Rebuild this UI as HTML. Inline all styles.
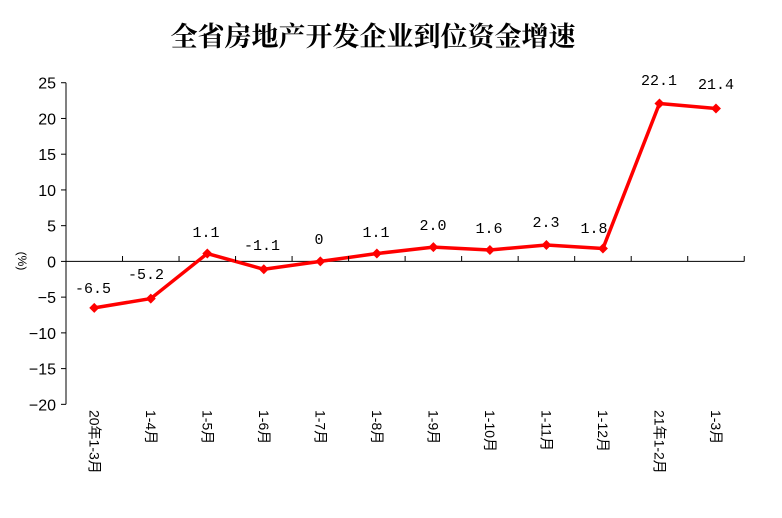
<!DOCTYPE html>
<html><head><meta charset="utf-8"><style>
body{margin:0;background:#fff;}
svg{display:block;}
text{font-family:"Liberation Sans","Noto Sans CJK SC",sans-serif;fill:#000;}
text.m{font-family:"Liberation Mono","Noto Sans CJK SC",monospace;}
</style></head><body>
<svg width="782" height="518" viewBox="0 0 782 518" xmlns="http://www.w3.org/2000/svg">
<text x="373" y="46" text-anchor="middle" style="font-family:'Liberation Serif','Noto Serif CJK SC',serif;font-weight:bold;font-size:27px">全省房地产开发企业到位资金增速</text>
<g stroke="#000" stroke-width="1">
<line x1="66" y1="82.7" x2="66" y2="404.3"/>
<line x1="66" y1="261.4" x2="744.3" y2="261.4"/>
</g>
<g id="yt" font-size="16" text-anchor="end"></g>
<g id="xt"></g>
<polyline id="ln" fill="none" stroke="#ff0000" stroke-width="3.5" stroke-linejoin="round"/>
<g id="mk" fill="#ff0000"></g>
<g id="lb" font-size="15" text-anchor="middle"></g>
<text x="18" y="261" font-size="12" text-anchor="middle" transform="rotate(90 18 261)">(%)</text>
</svg>
<script>
var ns="http://www.w3.org/2000/svg",s=document.querySelector('svg');
function Y(v){return 261.4-v*7.147;}
function X(i){return 66+56.52*(i+0.5);}
var yt=document.getElementById('yt');
for(var v=-20;v<=25;v+=5){var y=Y(v);
var l=document.createElementNS(ns,'line');l.setAttribute('x1',61);l.setAttribute('x2',66);l.setAttribute('y1',y);l.setAttribute('y2',y);l.setAttribute('stroke','#000');s.appendChild(l);
var t=document.createElementNS(ns,'text');t.setAttribute('x',56);t.setAttribute('y',y+6);t.textContent=(v<0?'\u2212'+(-v):v);yt.appendChild(t);}
for(var i=1;i<=12;i++){var x=66+56.52*i;var l=document.createElementNS(ns,'line');l.setAttribute('x1',x);l.setAttribute('x2',x);l.setAttribute('y1',256);l.setAttribute('y2',261.4);l.setAttribute('stroke','#000');s.appendChild(l);}
var cats=["20年1-3月","1-4月","1-5月","1-6月","1-7月","1-8月","1-9月","1-10月","1-11月","1-12月","21年1-2月","1-3月"];
var vals=[-6.5,-5.2,1.1,-1.1,0,1.1,2.0,1.6,2.3,1.8,22.1,21.4];
var labs=["-6.5","-5.2","1.1","-1.1","0","1.1","2.0","1.6","2.3","1.8","22.1","21.4"];
var lx=[93,146,206,262,319,376,433,489,546,594,659,716];
var ly=[293,279,237,250,244,237,230,233,227,233,85,89];
var xt=document.getElementById('xt'),pts=[],mk=document.getElementById('mk'),lb=document.getElementById('lb');
cats.forEach(function(c,i){var x=X(i)-5;var t=document.createElementNS(ns,'text');t.setAttribute('x',x);t.setAttribute('y',410);t.setAttribute('font-size','14');t.setAttribute('transform','rotate(90 '+x+' 410)');t.textContent=c;xt.appendChild(t);
var px=X(i),py=Y(vals[i]);pts.push(px+','+py);
var p=document.createElementNS(ns,'polygon');p.setAttribute('points',(px)+','+(py-5)+' '+(px+5)+','+py+' '+px+','+(py+5)+' '+(px-5)+','+py);mk.appendChild(p);
var t2=document.createElementNS(ns,'text');t2.setAttribute('class','m');t2.setAttribute('x',lx[i]);t2.setAttribute('y',ly[i]);t2.textContent=labs[i];lb.appendChild(t2);
});
document.getElementById('ln').setAttribute('points',pts.join(' '));
</script>
</body></html>
